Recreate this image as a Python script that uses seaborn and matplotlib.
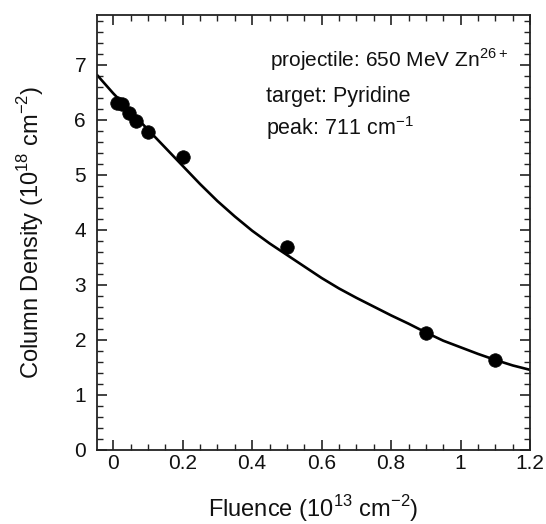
#!/usr/bin/env python3
import pandas as pd
import matplotlib
matplotlib.use("Agg")
import matplotlib.pyplot as plt
from matplotlib.ticker import MultipleLocator
import seaborn as sns

# measured column densities
fluence = [0.01, 0.025, 0.045, 0.065, 0.1, 0.2, 0.5, 0.9, 1.1]
density = [6.30, 6.28, 6.13, 5.97, 5.77, 5.32, 3.68, 2.12, 1.63]

# fit curve
fit_fluence = [-0.046, 0.0, 0.05, 0.1, 0.15, 0.2, 0.25, 0.3, 0.35, 0.4, 0.45, 0.5,
               0.55, 0.6, 0.65, 0.7, 0.75, 0.8, 0.85, 0.9, 0.95, 1.0, 1.05, 1.1,
               1.15, 1.2]
fit_density = [6.81, 6.48, 6.15, 5.82, 5.49, 5.16, 4.83, 4.52, 4.24, 3.98, 3.75, 3.54,
               3.33, 3.12, 2.93, 2.76, 2.60, 2.44, 2.29, 2.13, 1.98, 1.86, 1.74, 1.63,
               1.53, 1.45]

x_ticks = [0, 0.2, 0.4, 0.6, 0.8, 1.0, 1.2]
x_tick_labels = ["0", "0.2", "0.4", "0.6", "0.8", "1", "1.2"]

sns.set_theme(style="ticks")
plt.rcParams["font.family"] = ["Liberation Sans", "DejaVu Sans"]
plt.rcParams["mathtext.fontset"] = "custom"
plt.rcParams["mathtext.rm"] = "Liberation Sans"

data = pd.DataFrame({"Fluence": fluence, "Density": density})
fit = pd.DataFrame({"Fluence": fit_fluence, "Density": fit_density})

fig = plt.figure(figsize=(5.46, 5.24), dpi=100)
ax = fig.add_axes([0.178, 0.142, 0.793, 0.829])

sns.lineplot(data=fit, x="Fluence", y="Density", color="black", linewidth=1.9, ax=ax)
sns.scatterplot(data=data, x="Fluence", y="Density", color="black", s=95,
                edgecolor="black", linewidth=0.5, ax=ax, zorder=3)

ax.set_xlim(-0.046, 1.2)
ax.set_ylim(0, 7.9)
ax.set_xticks(x_ticks)
ax.set_xticklabels(x_tick_labels)
ax.xaxis.set_minor_locator(MultipleLocator(0.05))
ax.yaxis.set_major_locator(MultipleLocator(1))
ax.yaxis.set_minor_locator(MultipleLocator(0.2))
ax.tick_params(which="both", direction="in", top=True, right=True, colors="#222222",
               labelcolor="#111111", labelsize=15)
ax.tick_params(axis="x", pad=3)
ax.tick_params(axis="y", pad=8)
ax.tick_params(which="major", length=7, width=1.2)
ax.tick_params(which="minor", length=4, width=1.0)
for s in ax.spines.values():
    s.set_linewidth(1.3)
    s.set_color("#222222")

ax.set_xlabel(r"Fluence (10$^{13}$ cm$^{-2}$)", fontsize=17, color="#111111")
ax.set_ylabel(r"Column Density (10$^{18}$ cm$^{-2}$)", fontsize=17, color="#111111")
ax.xaxis.set_label_coords(0.5, -0.10)
ax.yaxis.set_label_coords(-0.118, 0.5)

ax.text(0.452, 7.09, r"projectile: 650 MeV Zn$^{26+}$", fontsize=15, va="center", color="#111111")
ax.text(0.44, 6.42, "target: Pyridine", fontsize=15.5, va="center", color="#111111")
ax.text(0.44, 5.85, r"peak: 711 cm$^{-1}$", fontsize=15.5, va="center", color="#111111")

fig.savefig("out.png", dpi=100)
